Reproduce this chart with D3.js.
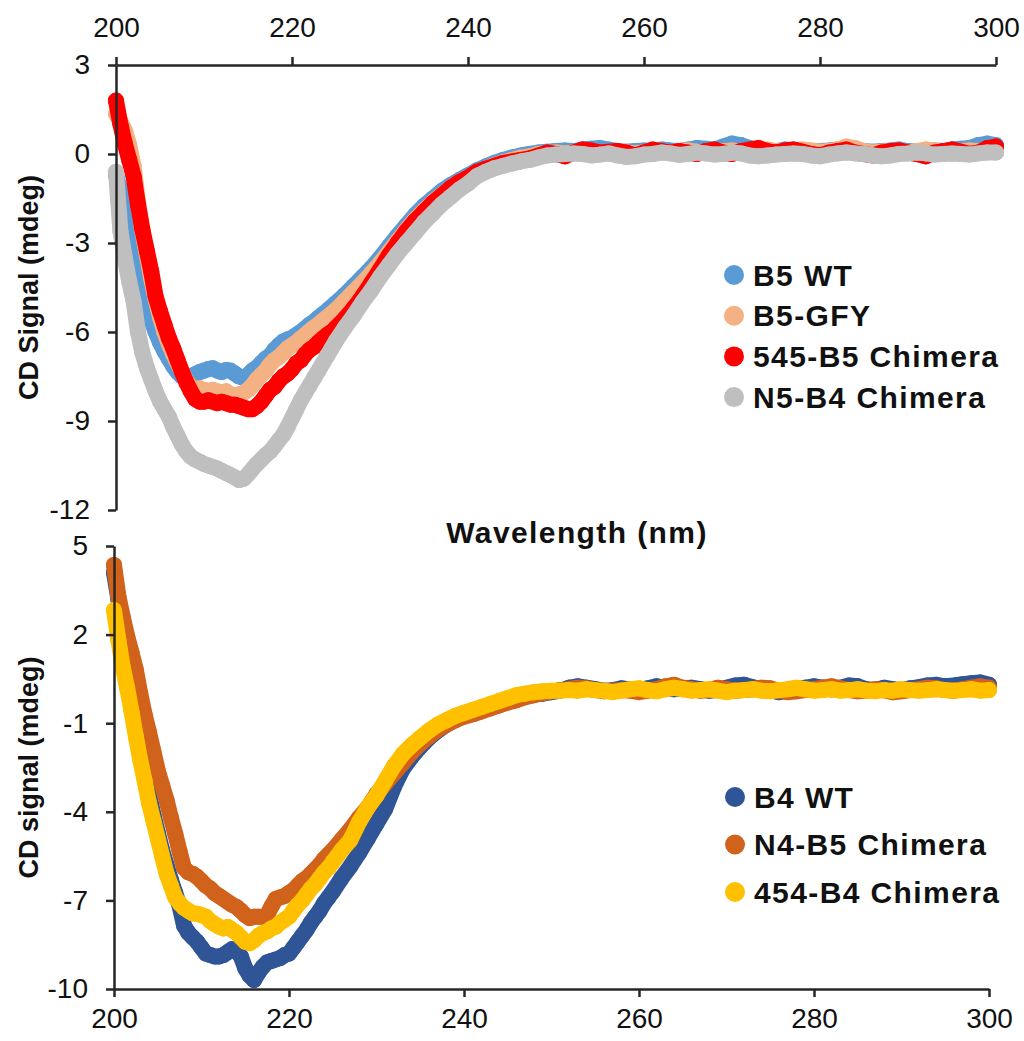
<!DOCTYPE html>
<html>
<head>
<meta charset="utf-8">
<script src="https://cdn.jsdelivr.net/npm/d3@7"></script>
<style>
  body { margin: 0; background: #fff; }
  svg { display: block; }
  text { font-family: "Liberation Sans", Arial, Helvetica, sans-serif; }
</style>
</head>
<body>
<svg id="chart" width="1024" height="1041"></svg>
<script>
// Wavelength grid (nm): 0.5 nm steps through the minimum, 1 nm afterwards
const wavelengths = [
  200,200.5,201,201.5,202,202.5,203,203.5,204,204.5,205,205.5,206,206.5,207,207.5,208,208.5,209,209.5,
  210,210.5,211,211.5,212,212.5,213,213.5,214,214.5,215,215.5,216,216.5,217,217.5,218,218.5,219,219.5,
  220,220.5,221,221.5,222,222.5,223,223.5,224,224.5,225,
  226,227,228,229,230,231,232,233,234,235,236,237,238,239,240,
  241,242,243,244,245,246,247,248,249,250,251,252,253,254,255,256,257,258,259,260,
  261,262,263,264,265,266,267,268,269,270,271,272,273,274,275,276,277,278,279,280,
  281,282,283,284,285,286,287,288,289,290,291,292,293,294,295,296,297,298,299,300
];

const xTickValues = [200, 220, 240, 260, 280, 300];
const topYTicks = [3, 0, -3, -6, -9, -12];
const bottomYTicks = [5, 2, -1, -4, -7, -10];

// Upper panel: B5 family (mdeg)
const topNames = ["B5 WT", "B5-GFY", "545-B5 Chimera", "N5-B4 Chimera"];
const topColors = ["#5b9bd5", "#f4b183", "#ff0000", "#bfbfbf"];

const b5WT = [
  -0.7,-1.2,-1.5,-1.9,-2.7,-3.4,-4.2,-5.0,-5.6,-6.0,-6.35,-6.65,-6.9,-7.15,-7.35,-7.5,-7.55,-7.5,-7.42,-7.35,
  -7.3,-7.25,-7.22,-7.3,-7.35,-7.28,-7.3,-7.4,-7.5,-7.55,-7.45,-7.3,-7.2,-7.05,-6.9,-6.8,-6.6,-6.45,-6.32,-6.25,
  -6.2,-6.1,-6.0,-5.88,-5.75,-5.65,-5.52,-5.4,-5.28,-5.15,-5.02,
  -4.75,-4.45,-4.15,-3.85,-3.5,-3.12,-2.75,-2.4,-2.05,-1.75,-1.5,-1.25,-1.05,-0.88,-0.72,
  -0.55,-0.42,-0.3,-0.2,-0.12,-0.05,0.0,0.05,0.08,0.1,0.12,0.1,0.15,0.18,0.2,0.15,0.1,0.08,0.1,0.12,
  0.1,0.15,0.12,0.1,0.15,0.2,0.18,0.15,0.25,0.35,0.3,0.2,0.15,0.12,0.1,0.15,0.12,0.1,0.08,0.1,
  0.12,0.15,0.1,0.12,0.1,0.08,0.1,0.12,0.15,0.1,0.08,0.1,0.12,0.1,0.15,0.18,0.2,0.3,0.35,0.3
];
const b5GFY = [
  1.35,1.1,0.8,0.3,-0.4,-1.6,-2.6,-3.4,-4.2,-4.9,-5.5,-6.0,-6.4,-6.75,-7.05,-7.35,-7.65,-7.85,-7.95,-7.9,
  -7.95,-8.0,-7.95,-8.0,-8.05,-8.0,-8.1,-8.15,-8.1,-8.05,-7.95,-7.8,-7.6,-7.45,-7.3,-7.1,-6.95,-6.85,-6.7,-6.55,
  -6.45,-6.35,-6.22,-6.1,-5.97,-5.85,-5.75,-5.62,-5.5,-5.38,-5.25,
  -4.95,-4.65,-4.35,-4.02,-3.68,-3.3,-2.92,-2.55,-2.2,-1.9,-1.62,-1.38,-1.15,-0.95,-0.8,
  -0.65,-0.5,-0.38,-0.28,-0.2,-0.12,-0.08,0.0,0.02,0.05,0.02,0.05,0.08,0.05,0.02,0.05,0.08,0.05,0.02,0.05,
  0.1,0.08,0.05,0.1,0.12,0.08,0.05,0.08,0.1,0.12,0.08,0.05,0.1,0.15,0.1,0.08,0.12,0.15,0.12,0.08,
  0.1,0.15,0.25,0.2,0.1,0.05,0.08,0.1,0.08,0.05,0.1,0.15,0.12,0.08,0.05,0.1,0.12,0.1,0.08,0.1
];
const chimera545B5 = [
  1.8,1.0,0.35,-0.2,-0.75,-1.7,-2.55,-3.25,-3.95,-4.8,-5.3,-5.75,-6.2,-6.55,-6.95,-7.35,-7.7,-8.0,-8.25,-8.35,
  -8.35,-8.3,-8.35,-8.4,-8.35,-8.4,-8.45,-8.45,-8.5,-8.55,-8.6,-8.6,-8.5,-8.35,-8.15,-7.95,-7.85,-7.65,-7.5,-7.4,
  -7.25,-7.05,-6.95,-6.75,-6.6,-6.5,-6.35,-6.22,-6.1,-6.0,-5.85,
  -5.55,-5.2,-4.8,-4.35,-3.9,-3.42,-3.0,-2.6,-2.25,-1.95,-1.65,-1.4,-1.15,-0.95,-0.8,
  -0.6,-0.5,-0.4,-0.3,-0.25,-0.2,-0.15,-0.05,0.05,0.0,-0.08,0.05,0.15,0.12,0.05,0.08,0.1,0.05,-0.05,0.05,
  0.15,0.1,0.05,0.1,0.05,0.0,0.1,0.15,0.05,0.0,0.1,0.15,0.2,0.1,0.05,0.12,0.15,0.08,0.0,-0.05,
  0.05,0.1,0.15,0.05,0.0,-0.05,0.05,0.1,0.12,0.05,0.0,-0.08,0.05,0.1,0.15,0.08,0.0,0.05,0.2,0.25
];
const chimeraN5B4 = [
  -0.6,-2.6,-3.5,-4.3,-4.97,-6.0,-6.7,-7.2,-7.6,-8.0,-8.34,-8.6,-8.85,-9.2,-9.5,-9.8,-10.03,-10.2,-10.3,-10.37,
  -10.45,-10.5,-10.55,-10.6,-10.68,-10.75,-10.82,-10.9,-10.99,-10.95,-10.8,-10.62,-10.45,-10.3,-10.15,-10.03,-9.85,-9.65,-9.47,-9.2,
  -8.9,-8.6,-8.3,-8.05,-7.8,-7.55,-7.3,-7.05,-6.8,-6.55,-6.3,
  -5.85,-5.45,-5.0,-4.6,-4.15,-3.75,-3.35,-3.0,-2.65,-2.3,-2.0,-1.7,-1.45,-1.2,-1.0,
  -0.75,-0.6,-0.48,-0.4,-0.32,-0.25,-0.2,-0.12,-0.05,-0.02,0.0,0.02,0.0,-0.05,-0.02,0.02,-0.05,-0.1,-0.08,-0.02,
  0.0,0.05,0.02,-0.03,0.0,0.05,0.02,-0.02,0.0,0.05,0.02,-0.05,-0.08,-0.05,-0.02,0.0,0.02,0.0,-0.05,-0.08,
  -0.02,0.02,0.05,0.02,0.0,-0.05,-0.08,-0.05,0.0,0.02,0.05,0.02,-0.02,0.0,0.02,0.0,-0.02,0.02,0.05,0.05
];

// Lower panel: B4 family (mdeg)
const bottomNames = ["B4 WT", "N4-B5 Chimera", "454-B4 Chimera"];
const bottomColors = ["#2f5597", "#d0621b", "#ffc000"];

const b4WT = [
  4.1,3.2,2.4,1.0,-0.2,-1.1,-1.9,-2.6,-3.4,-4.1,-4.7,-5.3,-5.8,-6.3,-6.75,-7.2,-7.85,-8.1,-8.25,-8.4,
  -8.6,-8.8,-8.85,-8.9,-8.9,-8.85,-8.75,-8.65,-8.7,-8.9,-9.3,-9.55,-9.7,-9.45,-9.25,-9.1,-9.05,-9.0,-8.95,-8.85,
  -8.8,-8.6,-8.4,-8.2,-8.0,-7.75,-7.55,-7.35,-7.1,-6.9,-6.7,
  -6.25,-5.85,-5.4,-4.9,-4.4,-3.9,-3.15,-2.55,-2.15,-1.8,-1.5,-1.25,-1.05,-0.88,-0.72,
  -0.62,-0.5,-0.38,-0.28,-0.2,-0.1,-0.05,0.02,0.0,0.05,0.1,0.2,0.25,0.2,0.15,0.1,0.12,0.18,0.15,0.12,
  0.18,0.25,0.2,0.15,0.18,0.2,0.15,0.1,0.12,0.2,0.28,0.3,0.22,0.15,0.12,0.05,0.1,0.15,0.2,0.25,
  0.2,0.15,0.2,0.28,0.25,0.15,0.12,0.2,0.15,0.12,0.18,0.22,0.28,0.3,0.25,0.28,0.32,0.35,0.38,0.3
];
const chimeraN4B5 = [
  4.36,3.3,2.6,1.95,1.4,0.8,0.0,-0.7,-1.3,-1.95,-2.6,-3.1,-3.6,-4.2,-4.75,-5.35,-5.9,-6.05,-6.1,-6.2,
  -6.35,-6.5,-6.6,-6.75,-6.85,-6.95,-7.05,-7.15,-7.22,-7.35,-7.5,-7.6,-7.55,-7.55,-7.55,-7.5,-7.2,-6.95,-6.9,-6.85,
  -6.75,-6.65,-6.5,-6.35,-6.25,-6.1,-5.95,-5.8,-5.6,-5.45,-5.3,
  -4.95,-4.6,-4.2,-3.85,-3.4,-3.05,-2.7,-2.35,-2.0,-1.7,-1.45,-1.22,-1.05,-0.9,-0.78,
  -0.7,-0.6,-0.5,-0.4,-0.3,-0.22,-0.12,-0.05,0.02,0.08,0.12,0.15,0.2,0.18,0.12,0.08,0.1,0.12,0.1,0.05,
  0.1,0.15,0.25,0.3,0.2,0.15,0.1,0.12,0.2,0.15,0.1,0.12,0.15,0.2,0.18,0.1,0.05,0.08,0.12,0.15,
  0.2,0.25,0.18,0.12,0.08,0.1,0.15,0.12,0.05,0.08,0.12,0.15,0.2,0.18,0.12,0.1,0.15,0.2,0.25,0.2
];
const chimera454B4 = [
  2.83,1.82,0.9,0.2,-0.6,-1.45,-2.25,-2.95,-3.7,-4.3,-4.9,-5.5,-6.09,-6.5,-6.9,-7.1,-7.25,-7.35,-7.44,-7.45,
  -7.5,-7.55,-7.7,-7.8,-7.89,-7.95,-7.9,-8.0,-8.1,-8.25,-8.4,-8.45,-8.35,-8.2,-8.11,-8.05,-7.95,-7.89,-7.75,-7.65,
  -7.55,-7.35,-7.15,-7.0,-6.8,-6.6,-6.45,-6.25,-6.05,-5.9,-5.7,
  -5.3,-4.96,-4.35,-3.85,-3.45,-2.95,-2.45,-2.05,-1.75,-1.5,-1.25,-1.05,-0.9,-0.75,-0.65,
  -0.55,-0.45,-0.35,-0.25,-0.15,-0.05,0.0,0.05,0.08,0.1,0.1,0.12,0.1,0.15,0.12,0.1,0.05,0.1,0.15,0.18,
  0.12,0.08,0.15,0.2,0.15,0.1,0.12,0.15,0.1,0.05,0.1,0.12,0.15,0.1,0.08,0.12,0.15,0.2,0.15,0.1,
  0.12,0.15,0.1,0.12,0.15,0.1,0.08,0.12,0.1,0.15,0.12,0.1,0.12,0.15,0.12,0.1,0.12,0.15,0.1,0.12
];

const topValues = [b5WT, b5GFY, chimera545B5, chimeraN5B4];
const bottomValues = [b4WT, chimeraN4B5, chimera454B4];

const svg = d3.select("#chart");
const AXIS_COLOR = "#262626";
const TEXT_COLOR = "#111";
const DOT_R = 8;
const plainNumber = d => String(d); // ASCII hyphen for negatives

function toPoints(values) {
  return wavelengths
    .map((w, i) => ({ w, v: values[i] }))
    .filter(d => d.v !== undefined);
}

function styleAxis(sel) {
  sel.selectAll(".domain").attr("stroke", AXIS_COLOR).attr("stroke-width", 2.5);
  sel.selectAll(".tick line").attr("stroke", AXIS_COLOR).attr("stroke-width", 2.5);
  sel.selectAll(".tick text")
    .attr("fill", TEXT_COLOR)
    .style("font-size", "28px")
    .style("font-family", '"Liberation Sans", Arial, sans-serif');
}

function drawSeries(g, x, y, values, colors) {
  const line = d3.line().x(d => x(d.w)).y(d => y(d.v));
  values.forEach((vals, k) => {
    const pts = toPoints(vals);
    const s = g.append("g").attr("class", "series");
    s.append("path")
      .datum(pts)
      .attr("d", line)
      .attr("fill", "none")
      .attr("stroke", colors[k])
      .attr("stroke-width", DOT_R * 2)
      .attr("stroke-linecap", "round")
      .attr("stroke-linejoin", "round");
    s.selectAll("circle")
      .data(pts)
      .join("circle")
      .attr("cx", d => x(d.w))
      .attr("cy", d => y(d.v))
      .attr("r", DOT_R)
      .attr("fill", colors[k]);
  });
}

function drawLegend(g, names, colors, x0, y0, step) {
  names.forEach((name, k) => {
    const row = g.append("g").attr("transform", `translate(${x0},${y0 + k * step})`);
    row.append("circle").attr("cx", 0).attr("cy", 0).attr("r", 10).attr("fill", colors[k]);
    row.append("text")
      .attr("x", 19)
      .attr("y", 10.5)
      .attr("fill", TEXT_COLOR)
      .style("font-size", "30px")
      .style("font-weight", "bold")
      .style("letter-spacing", "1.4px")
      .text(name);
  });
}

// ---- Upper panel ----
const xTop = d3.scaleLinear().domain([200, 300]).range([116, 996]);
const yTop = d3.scaleLinear().domain([-12, 3]).range([510, 65]);

const gTop = svg.append("g");
drawSeries(gTop, xTop, yTop, topValues, topColors);

gTop.append("g")
  .attr("transform", `translate(0,${yTop(3)})`)
  .call(d3.axisTop(xTop).tickValues(xTickValues).tickFormat(plainNumber)
    .tickSize(8).tickSizeOuter(0).tickPadding(20))
  .call(styleAxis);

gTop.append("g")
  .attr("transform", `translate(${xTop(200)},0)`)
  .call(d3.axisLeft(yTop).tickValues(topYTicks).tickFormat(plainNumber)
    .tickSize(8).tickSizeOuter(0).tickPadding(18))
  .call(styleAxis);

drawLegend(gTop, topNames, topColors, 734, 275, 40.7);

svg.append("text")
  .attr("transform", `translate(38,${(yTop(3) + yTop(-12)) / 2}) rotate(-90)`)
  .attr("text-anchor", "middle")
  .attr("fill", TEXT_COLOR)
  .style("font-size", "27px")
  .style("font-weight", "bold")
  .text("CD Signal (mdeg)");

svg.append("text")
  .attr("x", 577)
  .attr("y", 543)
  .attr("text-anchor", "middle")
  .attr("fill", TEXT_COLOR)
  .style("font-size", "30px")
  .style("font-weight", "bold")
  .style("letter-spacing", "1.4px")
  .text("Wavelength (nm)");

// ---- Lower panel ----
const xBot = d3.scaleLinear().domain([200, 300]).range([114, 989]);
const yBot = d3.scaleLinear().domain([-10, 5]).range([989, 546]);

const gBot = svg.append("g");
drawSeries(gBot, xBot, yBot, bottomValues, bottomColors);

gBot.append("g")
  .attr("transform", `translate(0,${yBot(-10)})`)
  .call(d3.axisBottom(xBot).tickValues(xTickValues).tickFormat(plainNumber)
    .tickSize(8).tickSizeOuter(0).tickPadding(11))
  .call(styleAxis);

gBot.append("g")
  .attr("transform", `translate(${xBot(200)},0)`)
  .call(d3.axisLeft(yBot).tickValues(bottomYTicks).tickFormat(plainNumber)
    .tickSize(8).tickSizeOuter(0).tickPadding(18))
  .call(styleAxis);

drawLegend(gBot, bottomNames, bottomColors, 735, 797, 47.5);

svg.append("text")
  .attr("transform", `translate(38,${(yBot(5) + yBot(-10)) / 2}) rotate(-90)`)
  .attr("text-anchor", "middle")
  .attr("fill", TEXT_COLOR)
  .style("font-size", "27px")
  .style("font-weight", "bold")
  .text("CD signal (mdeg)");
</script>
</body>
</html>
